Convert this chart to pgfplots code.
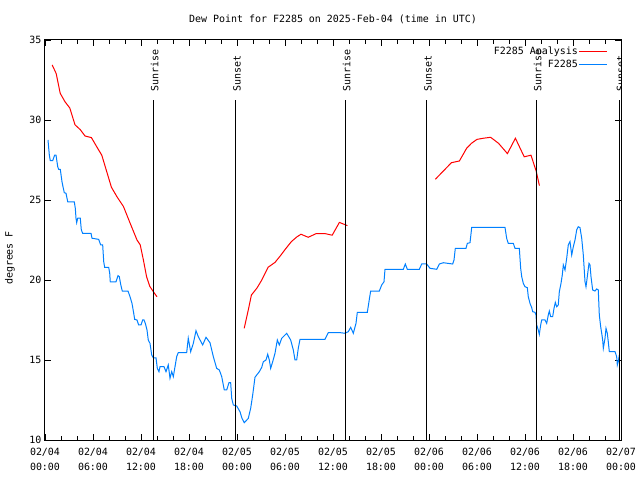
\documentclass[border=0pt]{standalone}
\usepackage{fontspec}
\setmainfont{DejaVu Sans Mono}
\usepackage{pgfplots}
\pgfplotsset{compat=1.18}

\definecolor{gpblue}{RGB}{0,128,255}
\newcommand{\gpfont}{\fontsize{10}{12}\selectfont}

% measured analysis (red) dew point, hours since 02/04 00:00 UTC
\pgfplotstableread{
h v
0.9 33.44
1.4 32.9
1.9 31.67
2.5 31.14
3.1 30.75
3.75 29.7
4.4 29.4
5.0 29.0
5.8 28.9
6.5 28.3
7.1 27.8
7.7 26.8
8.3 25.8
9.0 25.2
9.8 24.6
10.6 23.6
11.5 22.5
11.9 22.2
12.3 21.25
12.7 20.2
13.1 19.6
13.5 19.3
14.0 18.95
19.0 nan
24.9 16.98
25.4 18.1
25.8 19.06
26.5 19.5
27.1 20.0
27.9 20.8
28.75 21.1
29.4 21.5
30.0 21.9
30.8 22.4
31.5 22.7
32.0 22.86
32.9 22.67
33.9 22.9
35.0 22.9
35.9 22.8
36.8 23.6
37.3 23.5
37.8 23.4
43.0 nan
48.8 26.3
50.8 27.33
51.8 27.44
52.7 28.23
53.3 28.54
54.0 28.79
54.8 28.86
55.7 28.92
56.7 28.54
57.8 27.9
58.8 28.86
59.9 27.7
60.75 27.8
61.4 26.8
61.8 25.9
}\analysis

% station observations (blue)
\pgfplotstableread{
h v
0.375 28.75
0.54 27.81
0.66 27.46
0.96 27.46
1.21 27.81
1.375 27.81
1.59 27.08
1.71 26.92
1.91 26.92
2.125 26.14
2.25 25.83
2.41 25.46
2.625 25.42
2.84 24.89
3.66 24.89
3.79 24.48
3.875 23.86
3.96 23.58
4.09 23.86
4.41 23.86
4.54 23.13
4.71 22.92
5.75 22.92
5.875 22.61
6.71 22.54
6.96 22.19
7.21 22.19
7.34 21.14
7.46 20.79
7.96 20.79
8.09 20.42
8.16 19.89
8.875 19.89
9.125 20.27
9.29 20.21
9.46 19.73
9.66 19.31
10.375 19.31
10.625 18.96
10.875 18.54
11.09 17.92
11.21 17.54
11.5 17.5
11.71 17.19
12.0 17.19
12.21 17.5
12.375 17.5
12.54 17.29
12.75 16.875
12.91 16.25
13.125 16.04
13.34 15.31
13.54 15.14
13.875 15.14
14.04 14.48
14.25 14.27
14.375 14.58
14.875 14.58
15.125 14.27
15.41 14.69
15.625 13.86
15.84 14.27
16.04 13.96
16.25 14.58
16.46 15.21
16.66 15.46
17.71 15.46
17.91 16.36
18.21 15.52
18.54 16.04
18.875 16.83
19.16 16.46
19.71 15.94
20.125 16.42
20.625 16.08
21.04 15.21
21.46 14.48
21.79 14.375
22.09 13.96
22.41 13.125
22.71 13.125
23.0 13.58
23.21 13.58
23.34 12.6
23.54 12.19
23.96 12.125
24.375 11.77
24.625 11.35
24.91 11.08
25.41 11.35
25.71 11.98
25.96 12.81
26.25 13.92
26.46 14.06
26.79 14.27
27.09 14.54
27.29 14.89
27.625 15.0
27.84 15.36
28.04 15.0
28.21 14.48
28.46 14.89
28.75 15.42
29.04 16.25
29.29 15.94
29.59 16.36
30.21 16.67
30.71 16.25
31.04 15.625
31.25 15.0
31.46 15.0
31.66 15.73
31.875 16.29
35.0 16.29
35.41 16.71
36.875 16.71
37.5 16.67
37.91 16.77
38.21 17.04
38.54 16.67
38.875 17.29
39.04 17.98
40.29 17.98
40.625 19.06
40.71 19.31
41.79 19.31
42.09 19.69
42.375 19.89
42.5 20.67
44.79 20.67
45.04 21.0
45.29 20.67
46.79 20.67
47.09 21.0
47.71 21.0
48.125 20.73
48.96 20.67
49.29 21.0
49.79 21.08
50.96 21.0
51.125 21.25
51.29 21.98
52.625 21.98
52.79 22.29
53.125 22.33
53.34 23.29
57.5 23.29
57.71 22.6
57.91 22.29
58.54 22.29
58.75 21.98
59.29 21.98
59.46 20.73
59.59 20.21
59.79 19.79
60.0 19.58
60.29 19.52
60.41 18.96
60.625 18.54
60.84 18.27
60.96 18.02
61.25 17.98
61.375 17.81
61.46 17.19
61.66 16.875
61.79 16.6
61.96 17.19
62.09 17.5
62.5 17.5
62.71 17.29
62.91 17.81
63.04 18.06
63.21 17.71
63.46 17.71
63.625 18.23
63.79 18.6
63.96 18.33
64.16 18.44
64.29 19.27
64.5 19.79
64.66 20.31
64.79 20.94
65.0 20.625
65.21 21.35
65.41 22.19
65.625 22.4
65.84 21.56
66.04 22.08
66.25 22.5
66.46 23.125
66.66 23.33
66.875 23.27
67.09 22.6
67.29 21.56
67.5 19.9
67.625 19.58
67.71 19.9
67.84 20.42
68.0 21.04
68.125 20.94
68.25 20.21
68.46 19.375
68.75 19.31
68.96 19.44
69.16 19.375
69.29 17.81
69.46 17.08
69.59 16.67
69.71 16.25
69.79 15.73
70.0 16.35
70.125 16.98
70.29 16.67
70.41 16.14
70.54 15.52
71.25 15.52
71.46 15.21
71.54 14.69
71.66 14.9
71.79 15.31
}\station

\begin{document}
\begin{tikzpicture}
\useasboundingbox (-45bp,-40bp) rectangle (595bp,440bp);
\begin{axis}[
    scale only axis,
    width=576bp, height=400bp,
    xmin=0, xmax=72, ymin=10, ymax=35,
    axis line style={line width=1bp},
    every tick/.style={black, line width=0.8bp},
    tick align=inside,
    major tick length=6bp, minor tick length=4bp,
    xtick={0,6,...,72},
    minor x tick num=2,
    xticklabels={02/04\\[2.5bp]00:00,02/04\\[2.5bp]06:00,02/04\\[2.5bp]12:00,02/04\\[2.5bp]18:00,
                 02/05\\[2.5bp]00:00,02/05\\[2.5bp]06:00,02/05\\[2.5bp]12:00,02/05\\[2.5bp]18:00,
                 02/06\\[2.5bp]00:00,02/06\\[2.5bp]06:00,02/06\\[2.5bp]12:00,02/06\\[2.5bp]18:00,
                 02/07\\[2.5bp]00:00},
    xticklabel style={align=center, font=\gpfont, inner sep=0pt, yshift=-8bp},
    ytick={10,15,...,35},
    yticklabel style={font=\gpfont},
    /pgf/number format/assume math mode=true,
    unbounded coords=jump,
    legend style={at={(1,1)}, anchor=north east, xshift=-10bp, yshift=-4bp,
        draw=none, fill=none, font=\gpfont,
        nodes={inner sep=1bp}, row sep=1.5bp},
    legend cell align=right,
    legend plot pos=right,
    legend image code/.code={\draw[#1] (6bp,0bp) -- (34bp,0bp);},
]
\addplot[red, line width=1bp] table[x=h, y=v] {\analysis};
\addlegendentry{F2285 Analysis}
\addplot[gpblue, line width=1bp] table[x=h, y=v] {\station};
\addlegendentry{F2285}

% sunrise / sunset markers
\foreach \t/\lab in {13.53/Sunrise, 23.8/Sunset, 37.53/Sunrise, 47.68/Sunset, 61.4/Sunrise, 71.75/Sunset} {
    \edef\temp{\noexpand\draw[black, line width=1bp] (axis cs:\t,10) -- (axis cs:\t,31.25);}
    \temp
    \edef\temp{\noexpand\node[rotate=90, anchor=base west, inner sep=0pt, font=\noexpand\gpfont]
        at (axis cs:\t+0.65,31.75) {\lab};}
    \temp
}
\end{axis}
\node[font=\gpfont] at (288bp,421bp) {Dew Point for F2285 on 2025-Feb-04 (time in UTC)};
\node[font=\gpfont, rotate=90] at (-35bp,182bp) {degrees F};
\end{tikzpicture}
\end{document}
